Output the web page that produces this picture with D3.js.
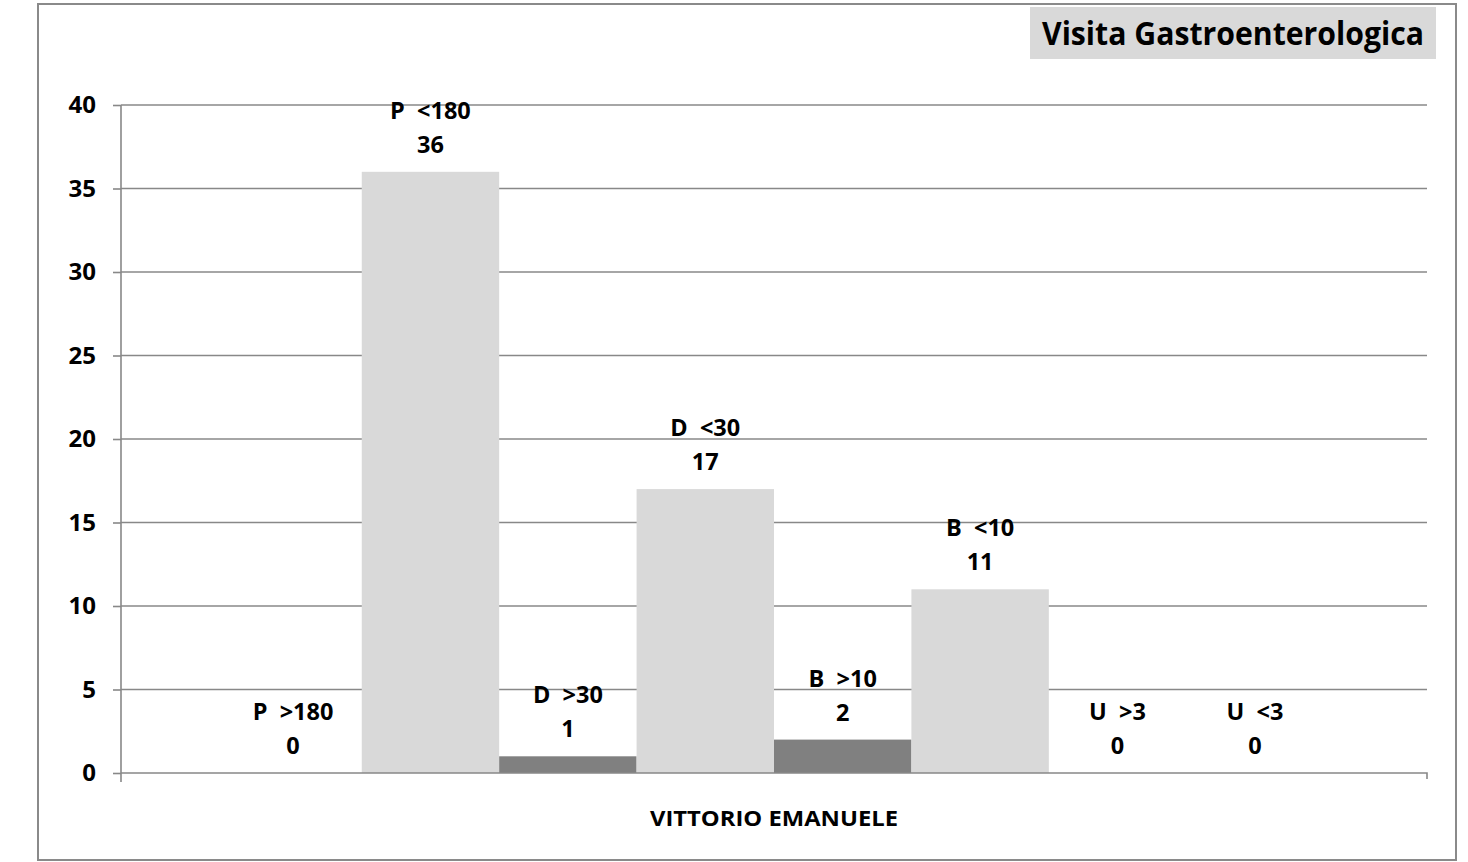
<!DOCTYPE html>
<html>
<head>
<meta charset="utf-8">
<script src="https://cdn.jsdelivr.net/npm/d3@7"></script>
<style>
  body { margin: 0; background: #fff; }
  text { font-family: "Open Sans", "DejaVu Sans", sans-serif; font-weight: bold; fill: #000; }
</style>
</head>
<body>
<div id="chart"></div>
<script>
var categories = ["VITTORIO EMANUELE"];
var seriesNames = ["P  >180", "P  <180", "D  >30", "D  <30", "B  >10", "B  <10", "U  >3", "U  <3"];
var seriesValues = [0, 36, 1, 17, 2, 11, 0, 0];
var seriesColors = ["#808080", "#d9d9d9", "#808080", "#d9d9d9", "#808080", "#d9d9d9", "#808080", "#d9d9d9"];
var yTicks = [0, 5, 10, 15, 20, 25, 30, 35, 40];
var title = "Visita Gastroenterologica";

function init(){
    var w = 1468;
    var h = 862;
    var left = 121, right = 1427, top = 105, bottom = 773;

    var svg = d3.select("#chart")
        .append("svg")
        .attr("width", w)
        .attr("height", h);

    // outer frame
    svg.append("rect")
        .attr("x", 38).attr("y", 4)
        .attr("width", 1418).attr("height", 856)
        .attr("fill", "none")
        .attr("stroke", "#8a8a8a")
        .attr("stroke-width", 2);

    var yScale = d3.scaleLinear()
        .domain([0, 40])
        .range([bottom, top]);

    var x0 = d3.scaleBand()
        .domain(categories)
        .range([left, right])
        .paddingInner(0)
        .paddingOuter(0.094);

    var x1 = d3.scaleBand()
        .domain(seriesNames)
        .range([0, x0.bandwidth()]);

    // gridlines
    svg.append("g")
        .selectAll("line")
        .data(yTicks.filter(function(d){ return d > 0; }))
        .enter()
        .append("line")
        .attr("x1", left).attr("x2", right)
        .attr("y1", function(d){ return yScale(d); })
        .attr("y2", function(d){ return yScale(d); })
        .attr("stroke", "#888")
        .attr("stroke-width", 1.6);

    // bars
    var group = svg.append("g")
        .attr("transform", "translate(" + x0(categories[0]) + ",0)");

    group.selectAll("rect")
        .data(seriesValues)
        .enter()
        .append("rect")
        .attr("x", function(d, i){ return x1(seriesNames[i]); })
        .attr("y", function(d){ return yScale(d); })
        .attr("width", x1.bandwidth())
        .attr("height", function(d){ return bottom - yScale(d); })
        .attr("fill", function(d, i){ return seriesColors[i]; });

    // bar labels (name + value)
    var labels = group.selectAll("g.lbl")
        .data(seriesValues)
        .enter()
        .append("g")
        .attr("class", "lbl");
    labels.append("text")
        .attr("x", function(d, i){ return x1(seriesNames[i]) + x1.bandwidth()/2; })
        .attr("y", function(d){ return yScale(d) - 53; })
        .attr("text-anchor", "middle")
        .style("font-size", "23.5px")
        .style("white-space", "pre")
        .text(function(d, i){ return seriesNames[i]; });
    labels.append("text")
        .attr("x", function(d, i){ return x1(seriesNames[i]) + x1.bandwidth()/2; })
        .attr("y", function(d){ return yScale(d) - 19; })
        .attr("text-anchor", "middle")
        .style("font-size", "23.5px")
        .text(function(d){ return d; });

    // y axis
    var yAxis = d3.axisLeft(yScale)
        .tickValues(yTicks)
        .tickSize(8)
        .tickPadding(17);
    var yg = svg.append("g")
        .attr("transform", "translate(" + left + ",0)")
        .call(yAxis);
    yg.select(".domain").attr("stroke", "#888").attr("stroke-width", 1.6)
        .attr("d", "M0," + top + "V" + (bottom + 9));
    yg.selectAll(".tick line").attr("stroke", "#888").attr("stroke-width", 1.6);
    yg.selectAll(".tick text")
        .style("font-size", "24px")
        .style("font-family", "'Open Sans', sans-serif")
        .attr("fill", "#000");

    // x axis
    var xAxis = d3.axisBottom(x0).tickSize(0).tickPadding(37);
    var xg = svg.append("g")
        .attr("transform", "translate(0," + bottom + ")")
        .call(xAxis);
    xg.select(".domain").attr("stroke", "#888").attr("stroke-width", 1.6)
        .attr("d", "M" + left + ",0H" + right + "V6");
    xg.selectAll(".tick text")
        .style("font-size", "22px")
        .style("font-family", "'Open Sans', sans-serif")
        .attr("fill", "#000")
        .attr("textLength", 248)
        .attr("lengthAdjust", "spacingAndGlyphs");

    // title box
    svg.append("rect")
        .attr("x", 1030).attr("y", 7)
        .attr("width", 406).attr("height", 52)
        .attr("fill", "#d9d9d9");
    svg.append("text")
        .attr("x", 1042).attr("y", 45)
        .style("font-size", "33px")
        .attr("textLength", 382)
        .attr("lengthAdjust", "spacingAndGlyphs")
        .text(title);
}
window.onload = init;
</script>
</body>
</html>
